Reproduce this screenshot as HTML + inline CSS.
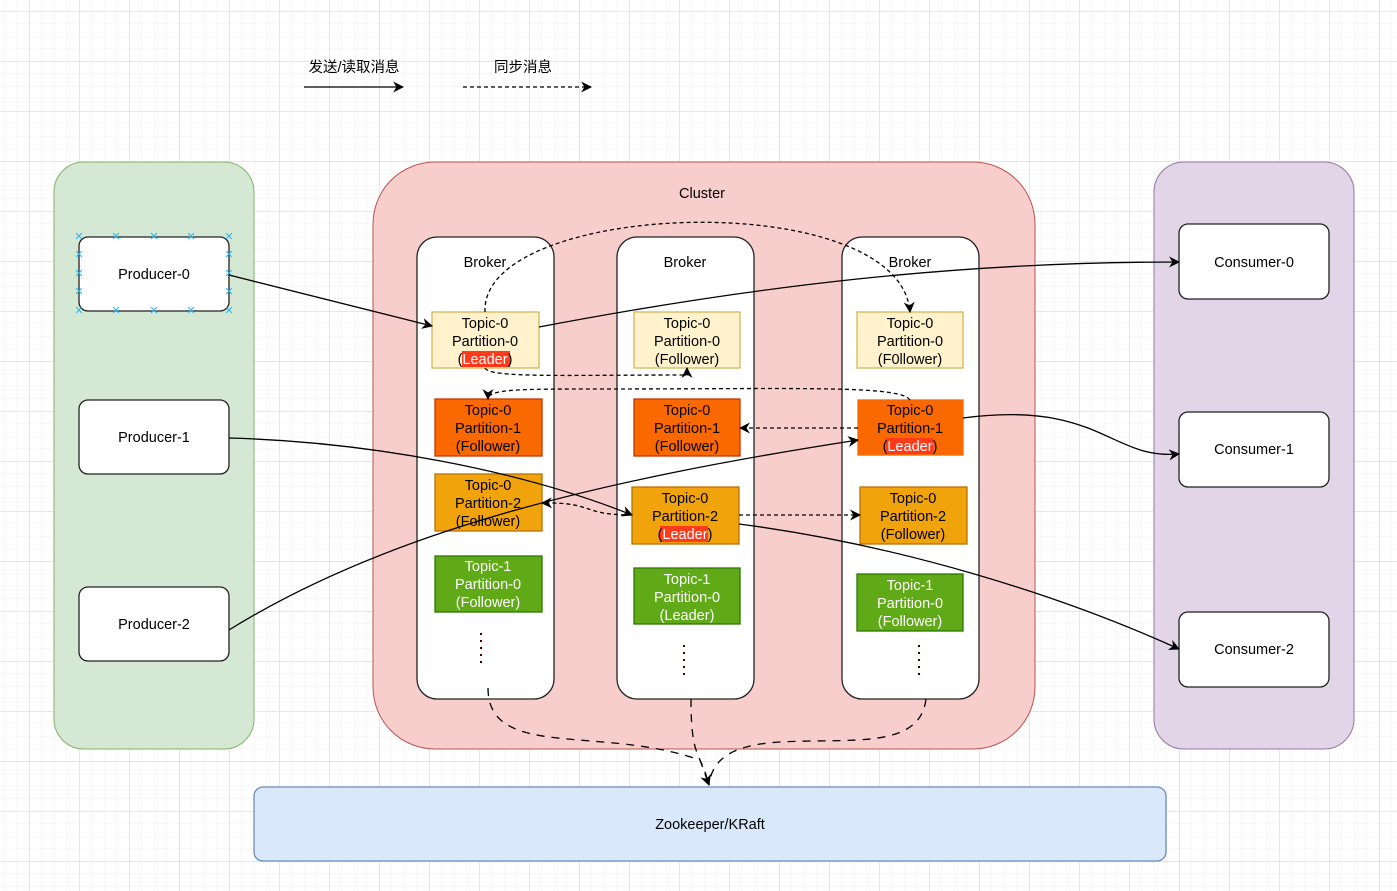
<!DOCTYPE html>
<html><head><meta charset="utf-8"><style>
html,body{margin:0;padding:0;background:#fff;}
svg{display:block;}
text{font-family:"Liberation Sans","Noto Sans CJK SC",sans-serif;font-size:14.5px;}
</style></head><body>
<svg width="1397" height="891" viewBox="0 0 1397 891" xmlns="http://www.w3.org/2000/svg">
<defs>
<pattern id="minor" x="4" y="11" width="12.5" height="12.5" patternUnits="userSpaceOnUse">
<path d="M0 0H12.5M0 0V12.5" stroke="#f1f1f1" stroke-width="1" fill="none"/>
</pattern>
<pattern id="major" x="29.5" y="11.5" width="50" height="50" patternUnits="userSpaceOnUse">
<path d="M0 0H50M0 0V50" stroke="#dcdcdc" stroke-width="1" fill="none"/>
</pattern>
<marker id="ar" viewBox="0 0 10 10" refX="9" refY="5" markerWidth="11" markerHeight="11" markerUnits="userSpaceOnUse" orient="auto">
<path d="M0 0L10 5L0 10L3 5Z" fill="#000"/>
</marker>
</defs>
<rect width="1397" height="891" fill="url(#minor)"/>
<rect width="1397" height="891" fill="url(#major)"/>

<text x="354" y="72" text-anchor="middle">发送/读取消息</text>
<line x1="304" y1="87" x2="403" y2="87" stroke="#000" stroke-width="1.3" marker-end="url(#ar)"/>
<text x="523" y="72" text-anchor="middle">同步消息</text>
<line x1="463" y1="87" x2="591" y2="87" stroke="#000" stroke-width="1.3" stroke-dasharray="4 3" marker-end="url(#ar)"/>

<rect x="54" y="162" width="200" height="587" rx="30" fill="#d5e8d4" stroke="#82b366"/>
<rect x="373" y="162" width="662" height="587" rx="62" fill="#f8cecc" stroke="#b85450"/>
<text x="702" y="198" text-anchor="middle">Cluster</text>
<rect x="1154" y="162" width="200" height="587" rx="30" fill="#e1d5e7" stroke="#9673a6"/>

<g fill="#fff" stroke="#222" stroke-width="1.3">
<rect x="79" y="237" width="150" height="74" rx="9"/>
<rect x="79" y="400" width="150" height="74" rx="9"/>
<rect x="79" y="587" width="150" height="74" rx="9"/>
<rect x="1179" y="224" width="150" height="75" rx="9"/>
<rect x="1179" y="412" width="150" height="75" rx="9"/>
<rect x="1179" y="612" width="150" height="75" rx="9"/>
</g>
<text x="154" y="279" text-anchor="middle">Producer-0</text>
<text x="154" y="442" text-anchor="middle">Producer-1</text>
<text x="154" y="629" text-anchor="middle">Producer-2</text>
<text x="1254" y="267" text-anchor="middle">Consumer-0</text>
<text x="1254" y="454" text-anchor="middle">Consumer-1</text>
<text x="1254" y="654" text-anchor="middle">Consumer-2</text>
<g fill="#29b6f2" text-anchor="middle" style="font-size:10px">
<text x="79" y="241">×</text><text x="116" y="241">×</text><text x="154" y="241">×</text><text x="191" y="241">×</text><text x="229" y="241">×</text>
<text x="79" y="259">×</text><text x="229" y="259">×</text>
<text x="79" y="278">×</text><text x="229" y="278">×</text>
<text x="79" y="296">×</text><text x="229" y="296">×</text>
<text x="79" y="315">×</text><text x="116" y="315">×</text><text x="154" y="315">×</text><text x="191" y="315">×</text><text x="229" y="315">×</text>
</g>

<g fill="#fff" stroke="#222" stroke-width="1.3">
<rect x="417" y="237" width="137" height="462" rx="20"/>
<rect x="617" y="237" width="137" height="462" rx="20"/>
<rect x="842" y="237" width="137" height="462" rx="20"/>
</g>
<text x="485" y="267" text-anchor="middle">Broker</text>
<text x="685" y="267" text-anchor="middle">Broker</text>
<text x="910" y="267" text-anchor="middle">Broker</text>

<g stroke-width="1.3">
<rect x="432" y="312" width="107" height="56" fill="#fff2cc" stroke="#d6b656"/>
<rect x="634" y="312" width="106" height="56" fill="#fff2cc" stroke="#d6b656"/>
<rect x="857" y="312" width="106" height="56" fill="#fff2cc" stroke="#d6b656"/>
<rect x="435" y="399" width="107" height="57" fill="#fa6800" stroke="#c73500"/>
<rect x="634" y="399" width="106" height="57" fill="#fa6800" stroke="#c73500"/>
<rect x="858" y="400" width="105" height="55" fill="#fa6800" stroke="#fa6800"/>
<rect x="435" y="474" width="107" height="57" fill="#f0a30a" stroke="#bd7000"/>
<rect x="632" y="487" width="107" height="57" fill="#f0a30a" stroke="#bd7000"/>
<rect x="860" y="487" width="107" height="57" fill="#f0a30a" stroke="#bd7000"/>
<rect x="435" y="556" width="107" height="56" fill="#60a917" stroke="#2d7600"/>
<rect x="634" y="568" width="106" height="56" fill="#60a917" stroke="#2d7600"/>
<rect x="857" y="574" width="106" height="57" fill="#60a917" stroke="#2d7600"/>
</g>
<rect x="462" y="351" width="48" height="16" fill="#ff3b1b"/>
<rect x="885" y="438" width="48" height="16" fill="#ff3b1b"/>
<rect x="660" y="526" width="48" height="16" fill="#ff3b1b"/>

<g text-anchor="middle">
<text x="485" y="328">Topic-0</text><text x="485" y="346">Partition-0</text><text x="485" y="364">(<tspan fill="#fff">Leader</tspan>)</text>
<text x="687" y="328">Topic-0</text><text x="687" y="346">Partition-0</text><text x="687" y="364">(Follower)</text>
<text x="910" y="328">Topic-0</text><text x="910" y="346">Partition-0</text><text x="910" y="364">(F0llower)</text>
<text x="488" y="415">Topic-0</text><text x="488" y="433">Partition-1</text><text x="488" y="451">(Follower)</text>
<text x="687" y="415">Topic-0</text><text x="687" y="433">Partition-1</text><text x="687" y="451">(Follower)</text>
<text x="910" y="415">Topic-0</text><text x="910" y="433">Partition-1</text><text x="910" y="451">(<tspan fill="#fff">Leader</tspan>)</text>
<text x="488" y="490">Topic-0</text><text x="488" y="508">Partition-2</text><text x="488" y="526">(Follower)</text>
<text x="685" y="503">Topic-0</text><text x="685" y="521">Partition-2</text><text x="685" y="539">(<tspan fill="#fff">Leader</tspan>)</text>
<text x="913" y="503">Topic-0</text><text x="913" y="521">Partition-2</text><text x="913" y="539">(Follower)</text>
<g fill="#fff">
<text x="488" y="571">Topic-1</text><text x="488" y="589">Partition-0</text><text x="488" y="607">(Follower)</text>
<text x="687" y="584">Topic-1</text><text x="687" y="602">Partition-0</text><text x="687" y="620">(Leader)</text>
<text x="910" y="590">Topic-1</text><text x="910" y="608">Partition-0</text><text x="910" y="626">(Follower)</text>
</g>
</g>

<g stroke="#400" stroke-width="2" stroke-dasharray="2 5">
<line x1="481" y1="633" x2="481" y2="667"/>
<line x1="684" y1="645" x2="684" y2="679"/>
<line x1="919" y1="645" x2="919" y2="679"/>
</g>

<rect x="254" y="787" width="912" height="74" rx="9" fill="#dae8fc" stroke="#6c8ebf" stroke-width="1.3"/>
<text x="710" y="829" text-anchor="middle">Zookeeper/KRaft</text>

<g fill="none" stroke="#000" stroke-width="1.3" marker-end="url(#ar)">
<path d="M229 275 L432 326"/>
<path d="M539 327 C760 285 960 262 1179 262"/>
<path d="M229 438 C370 442 520 470 632 515"/>
<path d="M229 630 C390 530 600 480 858 440"/>
<path d="M739 524 C900 545 1060 595 1179 649"/>
<path d="M963 418 C1100 400 1110 460 1179 454"/>
</g>

<g fill="none" stroke="#000" stroke-width="1.3" stroke-dasharray="4 3" marker-end="url(#ar)">
<path d="M485 312 C480 200 900 185 910 312"/>
<path d="M485 368 C490 378 560 375 687 375 L687 368"/>
<path d="M910 400 C900 385 800 389 600 389 C520 389 488 389 488 399"/>
<path d="M858 428 L740 428"/>
<path d="M632 515 C580 515 595 502 542 503"/>
<path d="M739 515 L860 515"/>
</g>
<g fill="none" stroke="#000" stroke-width="1.3" stroke-dasharray="8 7">
<path d="M488 688 C488 760 600 725 700 760 L709 785" marker-end="url(#ar)"/>
<path d="M691 699 C691 760 700 750 709 785"/>
<path d="M926 699 C920 750 850 738 780 742 C730 745 712 760 709 785"/>
</g>
</svg>
</body></html>
